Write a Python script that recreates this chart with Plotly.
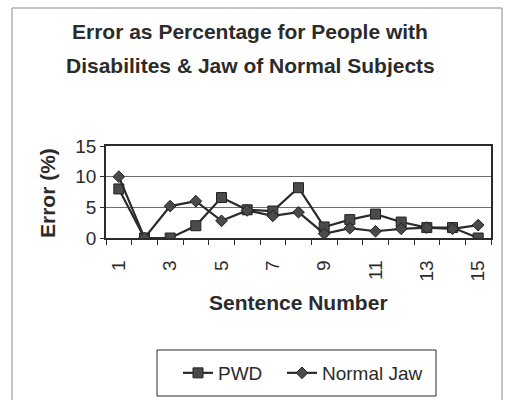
import plotly.graph_objects as go

# Sentence numbers and error percentages per group
sentences = list(range(1, 16))
pwd_error = [8, 0, 0, 2, 6.6, 4.6, 4.4, 8.2, 1.8, 3, 3.9, 2.6, 1.7, 1.7, 0]
normal_jaw_error = [10, 0, 5.2, 6, 2.8, 4.5, 3.6, 4.2, 0.7, 1.6, 1.1, 1.5, 1.7, 1.5, 2.1]
x_tick_labels = [1, 3, 5, 7, 9, 11, 13, 15]
y_tick_values = [0, 5, 10, 15]

FONT = "Liberation Sans, Arial, sans-serif"
INK = "#2b2b2b"

# plot-area box in pixels (left, right, top, bottom) within a 513x400 page
L, R, T, B = 106, 491, 146, 238
W, H = 513, 400


def px_x(x):
    return (x - L) / (R - L)


def px_y(y):
    return (B - y) / (B - T)


fig = go.Figure()
fig.add_trace(go.Scatter(
    x=sentences, y=pwd_error, name="PWD", mode="lines+markers",
    legend="legend",
    line=dict(color=INK, width=2.2),
    marker=dict(symbol="square", size=10, color="#4a4a4a",
                line=dict(color="#222222", width=1)),
))
fig.add_trace(go.Scatter(
    x=sentences, y=normal_jaw_error, name="Normal Jaw", mode="lines+markers",
    legend="legend2",
    line=dict(color=INK, width=2.2),
    marker=dict(symbol="diamond", size=9, color="#4a4a4a",
                line=dict(color="#222222", width=1)),
))

boundaries = [s - 0.5 for s in sentences] + [sentences[-1] + 0.5]


def label(text, x, y, angle=0):
    return dict(text=text, x=px_x(x), y=px_y(y), textangle=angle,
                xref="paper", yref="paper", xanchor="center", yanchor="middle",
                showarrow=False, font=dict(family=FONT, size=21, color=INK))


def legend_at(x):
    return dict(
        orientation="h", x=px_x(x), y=px_y(373),
        xanchor="left", yanchor="middle",
        bgcolor="rgba(0,0,0,0)", borderwidth=0,
        font=dict(family=FONT, size=19, color=INK),
        itemwidth=30,
    )


fig.update_layout(
    width=W, height=H,
    margin=dict(l=L, r=W - R, t=T, b=H - B, autoexpand=False),
    paper_bgcolor="white", plot_bgcolor="white",
    font=dict(family=FONT, size=19, color=INK),
    showlegend=True,
    legend=legend_at(178),
    legend2=legend_at(282),
    xaxis=dict(
        range=[0.5, 15.5], tickmode="array", tickvals=x_tick_labels,
        ticktext=[str(v) for v in x_tick_labels], tickangle=-90,
        ticks="", ticklabelstandoff=13,
        minor=dict(tickmode="array", tickvals=boundaries, ticks="outside",
                   ticklen=5, tickcolor=INK, tickwidth=1, showgrid=False),
        showgrid=False, zeroline=False,
        showline=True, linecolor=INK, linewidth=1.5, mirror=True,
        tickfont=dict(family=FONT, size=19, color=INK),
    ),
    yaxis=dict(
        range=[0, 15], tickmode="array", tickvals=y_tick_values,
        ticks="outside", ticklen=4, tickcolor=INK,
        showgrid=True, gridcolor="#6e6e6e", gridwidth=1, zeroline=False,
        showline=True, linecolor=INK, linewidth=1.5, mirror=True,
        tickfont=dict(family=FONT, size=19, color=INK),
    ),
    annotations=[
        label("<b>Error as Percentage for People with</b>", 250, 32),
        label("<b>Disabilites & Jaw of Normal Subjects</b>", 250, 65),
        label("<b>Sentence Number</b>", 298, 302),
        label("<b>Error (%)</b>", 47, 193, angle=-90),
    ],
    shapes=[
        # outer chart frame
        dict(type="rect", xref="paper", yref="paper",
             x0=px_x(12), x1=px_x(502), y0=px_y(410), y1=px_y(8),
             line=dict(color="#8a8a8a", width=1)),
        # legend box
        dict(type="rect", xref="paper", yref="paper",
             x0=px_x(157), x1=px_x(436), y0=px_y(396), y1=px_y(350),
             line=dict(color=INK, width=1)),
    ],
)

fig.write_html("out.html")
